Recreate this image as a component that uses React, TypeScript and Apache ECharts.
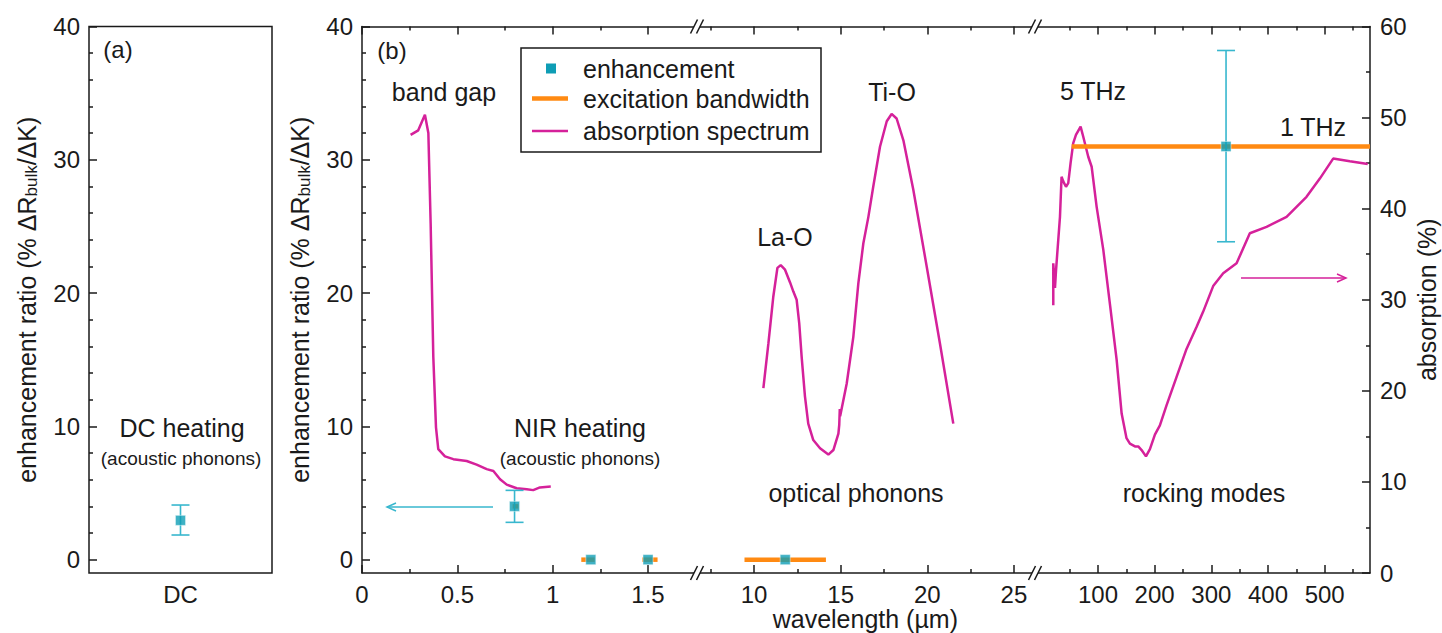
import React, { useEffect, useRef } from 'react';
import * as echarts from 'echarts';

const FONT = '"Liberation Sans", Arial, Helvetica, sans-serif';
const INK = '#1a1a1a';
const TEAL = '#0e9db5';
const TEAL_LIGHT = '#38b7ce';
const ORANGE = '#ff8a12';
const MAGENTA = '#d5219a';

// ---- tick values ----
const enhMajor = [0, 10, 20, 30, 40];
const enhMinor = [2, 4, 6, 8, 12, 14, 16, 18, 22, 24, 26, 28, 32, 34, 36, 38];
const absMajor = [0, 10, 20, 30, 40, 50, 60];
const absMinor = [5, 15, 25, 35, 45, 55];
const seg1Major = [0, 0.5, 1, 1.5];
const seg1Minor = [0.25, 0.75, 1.25];
const seg2Major = [10, 15, 20, 25];
const seg2Minor = [7.5, 12.5, 17.5, 22.5];
const seg3Major = [100, 200, 300, 400, 500];
const seg3Minor = [50, 150, 250, 350, 450, 550];

// ---- panel (a) ----
const dcCategories = ['DC'];
const dcEnhancement = [['DC', 2.95]];
const dcError = [['DC', 1.85, 4.1]];

// ---- panel (b), segment 1 (NIR) ----
const nirEnhancement = [[0.8, 4.0], [1.2, 0], [1.5, 0]];
const nirError = [[0.8, 2.8, 5.2]];
const nirBandwidth = [[0.79, 0.82, 4.0], [1.15, 1.22, 0], [1.47, 1.55, 0]];
const nirAbsorption = [
  [0.255, 48.1], [0.295, 48.6], [0.33, 50.3], [0.348, 48.3], [0.36, 38.4], [0.374, 23.7],
  [0.388, 16.0], [0.4, 13.6], [0.435, 12.8], [0.479, 12.5], [0.549, 12.3], [0.601, 11.9],
  [0.654, 11.4], [0.689, 11.2], [0.724, 10.3], [0.759, 9.7], [0.811, 9.3], [0.864, 9.2],
  [0.898, 9.1], [0.933, 9.4], [0.99, 9.5],
];

// ---- segment 2 (mid IR) ----
const midEnhancement = [[11.8, 0]];
const midBandwidth = [[9.45, 14.15, 0]];
const midAbsorption = [
  [10.54, 20.3], [10.83, 25.2], [11.11, 30.3], [11.35, 33.5], [11.54, 33.8], [11.79, 33.3],
  [12.08, 31.9], [12.27, 30.9], [12.46, 30.0], [12.61, 27.4], [12.75, 23.7], [12.94, 19.4],
  [13.13, 16.4], [13.42, 14.6], [13.81, 13.7], [14.29, 13.0], [14.58, 13.5], [14.87, 15.3],
  [14.92, 16.3], [14.95, 18.0], [14.97, 17.2], [15.35, 20.8], [15.73, 25.9], [16.02, 31.8],
  [16.31, 36.2], [16.6, 39.1], [16.88, 42.4], [17.27, 46.8], [17.66, 49.6], [17.94, 50.4],
  [18.23, 49.9], [18.62, 47.5], [19.19, 42.1], [19.97, 33.6], [20.73, 25.2], [21.5, 16.4],
];

// ---- segment 3 (THz) ----
const thzEnhancement = [[326, 31]];
const thzError = [[326, 23.85, 38.2]];
const thzBandwidth = [[53.6, 580, 31]];
const thzAbsorption = [
  [21.2, 29.4], [21.2, 34.0], [24.2, 31.3], [26, 33.2], [33, 39.1], [35.8, 43.5], [38.8, 43.0],
  [43.6, 42.4], [47.6, 42.8], [51.7, 45.0], [56.4, 47.2], [61.2, 48.1], [69.4, 49.0],
  [74.1, 47.9], [82.9, 45.7], [88.9, 44.6], [97.7, 40.2], [109.4, 35.5], [121.2, 29.5],
  [133, 23.4], [141.8, 17.5], [150.4, 14.8], [156.4, 14.2], [165.3, 13.9], [171.1, 13.9],
  [177, 13.5], [184.7, 12.8], [191.7, 13.6], [200.5, 15.2], [209.3, 16.2], [221, 18.4],
  [238.6, 21.5], [256.3, 24.6], [273.9, 27.0], [285.7, 28.7], [303.3, 31.5], [321, 32.9],
  [344.6, 34.0], [368, 37.3], [397.5, 38.0], [432.8, 39.1], [468, 41.3], [491.5, 43.3],
  [515, 45.5], [544.4, 45.2], [576, 44.9],
];

const TOP = 26.5;
const HEIGHT = 546.5;
const BOTTOM = TOP + HEIGHT;

const lineStyle = { color: INK, width: 1.5 };

function segAxes(grid: number, min: number, max: number, major: number[], minor: number[], extra: any = {}) {
  const base = { type: 'value', gridIndex: grid, min, max, splitLine: { show: false } };
  return [
    {
      ...base, position: 'bottom',
      axisLine: { show: true, onZero: false, lineStyle },
      axisTick: { show: true, inside: true, length: 8, customValues: major, lineStyle },
      axisLabel: { show: true, customValues: major, fontSize: 24, fontFamily: FONT, color: INK, margin: 9 },
      ...extra,
    },
    {
      ...base, position: 'bottom',
      axisLine: { show: false, onZero: false },
      axisTick: { show: true, inside: true, length: 4, customValues: minor, lineStyle },
      axisLabel: { show: false },
    },
    {
      ...base, position: 'top',
      axisLine: { show: true, onZero: false, lineStyle },
      axisTick: { show: true, inside: true, length: 8, customValues: major, lineStyle },
      axisLabel: { show: false },
    },
    {
      ...base, position: 'top',
      axisLine: { show: false, onZero: false },
      axisTick: { show: true, inside: true, length: 4, customValues: minor, lineStyle },
      axisLabel: { show: false },
    },
  ];
}

const yName = '{n|enhancement ratio (% ΔR}{s|bulk}{n|/ΔK)}';
const yNameStyle = {
  fontFamily: FONT,
  color: INK,
  rich: {
    n: { fontSize: 25, lineHeight: 26, fontFamily: FONT, color: INK },
    s: { fontSize: 17, lineHeight: 10, verticalAlign: 'bottom', fontFamily: FONT, color: INK },
  },
};

function enhAxes(grid: number, visible: boolean) {
  if (!visible) {
    return [{ type: 'value', gridIndex: grid, min: -1, max: 40, show: false, position: 'left', splitLine: { show: false } }];
  }
  return [
    {
      type: 'value', gridIndex: grid, min: -1, max: 40, position: 'left',
      axisLine: { show: grid !== 0, onZero: false, lineStyle },
      axisTick: { show: true, inside: true, length: 8, customValues: enhMajor, lineStyle },
      axisLabel: { show: true, customValues: enhMajor, fontSize: 24, fontFamily: FONT, color: INK, margin: 9 },
      splitLine: { show: false },
      name: yName, nameLocation: 'middle', nameRotate: 90, nameGap: 49, nameTextStyle: yNameStyle,
    },
    {
      type: 'value', gridIndex: grid, min: -1, max: 40, position: 'left',
      axisLine: { show: false, onZero: false },
      axisTick: { show: true, inside: true, length: 4, customValues: enhMinor, lineStyle },
      axisLabel: { show: false },
      splitLine: { show: false },
    },
  ];
}

function absAxes(grid: number, visible: boolean) {
  if (!visible) {
    return [{ type: 'value', gridIndex: grid, min: 0, max: 60, show: false, position: 'right', splitLine: { show: false } }];
  }
  return [
    {
      type: 'value', gridIndex: grid, min: 0, max: 60, position: 'right',
      axisLine: { show: true, onZero: false, lineStyle },
      axisTick: { show: true, inside: true, length: 8, customValues: absMajor, lineStyle },
      axisLabel: { show: true, customValues: absMajor, fontSize: 24, fontFamily: FONT, color: INK, margin: 10 },
      splitLine: { show: false },
      name: 'absorption (%)', nameLocation: 'middle', nameRotate: 90, nameGap: 44,
      nameTextStyle: { fontSize: 25, fontFamily: FONT, color: INK },
    },
    {
      type: 'value', gridIndex: grid, min: 0, max: 60, position: 'right',
      axisLine: { show: false, onZero: false },
      axisTick: { show: true, inside: true, length: 4, customValues: absMinor, lineStyle },
      axisLabel: { show: false },
      splitLine: { show: false },
    },
  ];
}

function errorSeries(data: any[], xi: number, yi: number) {
  return {
    type: 'custom', xAxisIndex: xi, yAxisIndex: yi, data, z: 4,
    encode: { x: 0, y: [1, 2] },
    renderItem: (params: any, api: any) => {
      const x = api.value(0);
      const lo = api.coord([x, api.value(1)]);
      const hi = api.coord([x, api.value(2)]);
      const w = 9;
      const st = { stroke: TEAL_LIGHT, lineWidth: 1.6 };
      return {
        type: 'group',
        children: [
          { type: 'line', shape: { x1: lo[0], y1: lo[1], x2: hi[0], y2: hi[1] }, style: st },
          { type: 'line', shape: { x1: lo[0] - w, y1: lo[1], x2: lo[0] + w, y2: lo[1] }, style: st },
          { type: 'line', shape: { x1: hi[0] - w, y1: hi[1], x2: hi[0] + w, y2: hi[1] }, style: st },
        ],
      };
    },
  };
}

function bandSeries(data: any[], xi: number, yi: number) {
  return {
    type: 'custom', name: 'excitation bandwidth', xAxisIndex: xi, yAxisIndex: yi, data, z: 3,
    encode: { x: [0, 1], y: 2 },
    renderItem: (params: any, api: any) => {
      const a = api.coord([api.value(0), api.value(2)]);
      const b = api.coord([api.value(1), api.value(2)]);
      return {
        type: 'line',
        shape: { x1: a[0], y1: a[1], x2: b[0], y2: b[1] },
        style: { stroke: ORANGE, lineWidth: 4.5 },
      };
    },
  };
}

function scatterSeries(data: any[], xi: number, yi: number) {
  return {
    type: 'scatter', name: 'enhancement', xAxisIndex: xi, yAxisIndex: yi, data, z: 5,
    symbol: 'rect', symbolSize: 10,
    itemStyle: { color: TEAL, borderColor: '#e8f6f9', borderWidth: 0.6 },
  };
}

function absSeries(data: any[], xi: number, yi: number) {
  return {
    type: 'line', name: 'absorption spectrum', xAxisIndex: xi, yAxisIndex: yi, data, z: 2,
    showSymbol: false, symbol: 'none', smooth: false,
    lineStyle: { color: MAGENTA, width: 2.5 },
  };
}

function txt(text: string, x: number, y: number, size = 25, align = 'center') {
  return {
    type: 'text', z: 100, x, y,
    style: { text, fill: INK, font: `${size}px ${FONT}`, align, verticalAlign: 'middle' },
  };
}

function breakMarks(bx: number) {
  const els: any[] = [];
  [TOP, BOTTOM].forEach((y) => {
    els.push({ type: 'rect', z: 100, shape: { x: bx - 3, y: y - 3, width: 6, height: 6 }, style: { fill: '#ffffff' } });
    [-3, 3].forEach((dx) => {
      els.push({
        type: 'line', z: 101,
        shape: { x1: bx + dx - 3.5, y1: y + 7, x2: bx + dx + 3.5, y2: y - 7 },
        style: { stroke: INK, lineWidth: 1.5 },
      });
    });
  });
  return els;
}

function arrow(x1: number, x2: number, y: number, color: string) {
  const dir = x2 > x1 ? 1 : -1;
  return [
    { type: 'line', z: 100, shape: { x1, y1: y, x2, y2: y }, style: { stroke: color, lineWidth: 1.5 } },
    {
      type: 'polyline', z: 100,
      shape: { points: [[x2 - dir * 9, y - 4], [x2, y], [x2 - dir * 9, y + 4]] },
      style: { stroke: color, lineWidth: 1.5, fill: 'none' },
    },
  ];
}

export default function App() {
  const ref = useRef<HTMLDivElement>(null);

  useEffect(() => {
    if (!ref.current) return;
    const chart = echarts.init(ref.current, null, { renderer: 'svg' });

    const xAxis: any[] = [
      {
        type: 'category', gridIndex: 0, data: dcCategories, position: 'bottom', boundaryGap: true,
        axisLine: { show: false, onZero: false }, axisTick: { show: false },
        axisLabel: { fontSize: 24, fontFamily: FONT, color: INK, margin: 9 },
        splitLine: { show: false },
      },
      ...segAxes(1, 0, 1.75, seg1Major, seg1Minor),
      ...segAxes(2, 6.75, 26.1, seg2Major, seg2Minor, {
        name: 'wavelength (µm)', nameLocation: 'middle', nameGap: 33, nameMoveOverlap: false,
        nameTextStyle: { fontSize: 25, fontFamily: FONT, color: INK, verticalAlign: 'top', lineHeight: 26 },
      }),
      ...segAxes(3, -10, 580, seg3Major, seg3Minor),
    ];

    const yAxis: any[] = [
      ...enhAxes(0, true), // 0,1
      ...enhAxes(1, true), // 2,3
      ...absAxes(1, false), // 4
      ...enhAxes(2, false), // 5
      ...absAxes(2, false), // 6
      ...enhAxes(3, false), // 7
      ...absAxes(3, true), // 8,9
    ];

    const series: any[] = [
      errorSeries(dcError, 0, 0),
      scatterSeries(dcEnhancement, 0, 0),

      absSeries(nirAbsorption, 1, 4),
      bandSeries(nirBandwidth, 1, 2),
      errorSeries(nirError, 1, 2),
      scatterSeries(nirEnhancement, 1, 2),

      absSeries(midAbsorption, 5, 6),
      bandSeries(midBandwidth, 5, 5),
      scatterSeries(midEnhancement, 5, 5),

      absSeries(thzAbsorption, 9, 8),
      bandSeries(thzBandwidth, 9, 7),
      errorSeries(thzError, 9, 7),
      scatterSeries(thzEnhancement, 9, 7),
    ];

    const graphic: any[] = [
      txt('(a)', 118, 49, 24),
      txt('(b)', 392, 50, 24),
      txt('DC heating', 182, 428),
      txt('(acoustic phonons)', 181, 458, 19),
      txt('band gap', 444, 92),
      txt('NIR heating', 580, 428),
      txt('(acoustic phonons)', 580, 458, 19),
      txt('La-O', 785, 237),
      txt('Ti-O', 892, 92),
      txt('optical phonons', 856, 493),
      txt('5 THz', 1093, 91),
      txt('1 THz', 1313, 127),
      txt('rocking modes', 1204, 493),
      // legend
      {
        type: 'rect', z: 90, shape: { x: 521, y: 48, width: 300, height: 104 },
        style: { fill: '#ffffff', stroke: INK, lineWidth: 1.5 },
      },
      { type: 'rect', z: 100, shape: { x: 546, y: 63.5, width: 10, height: 10 }, style: { fill: TEAL } },
      { type: 'line', z: 100, shape: { x1: 532, y1: 98.5, x2: 568, y2: 98.5 }, style: { stroke: ORANGE, lineWidth: 4.5 } },
      { type: 'line', z: 100, shape: { x1: 532, y1: 131, x2: 568, y2: 131 }, style: { stroke: MAGENTA, lineWidth: 2.5 } },
      txt('enhancement', 583, 68.5, 25, 'left'),
      txt('excitation bandwidth', 583, 98.5, 25, 'left'),
      txt('absorption spectrum', 583, 131, 25, 'left'),
      ...arrow(493, 387, 507, TEAL_LIGHT),
      ...arrow(1241, 1346, 278, MAGENTA),
      ...breakMarks(697),
      ...breakMarks(1035),
    ];

    const gridBase = { top: TOP, height: HEIGHT, outerBoundsMode: 'none', containLabel: false };
    chart.setOption({
      animation: false,
      backgroundColor: '#ffffff',
      textStyle: { fontFamily: FONT },
      grid: [
        { ...gridBase, left: 89, width: 183, show: true, borderColor: INK, borderWidth: 1.5, backgroundColor: 'transparent' },
        { ...gridBase, left: 362, width: 333.7, show: false },
        { ...gridBase, left: 697.7, width: 335.3, show: false },
        { ...gridBase, left: 1035.6, width: 334.4, show: false },
      ],
      xAxis,
      yAxis,
      series,
      graphic,
    });

    return () => chart.dispose();
  }, []);

  return (
    <div
      ref={ref}
      style={{ position: 'absolute', left: 0, top: 0, width: 1442, height: 633, background: '#fff' }}
    />
  );
}
